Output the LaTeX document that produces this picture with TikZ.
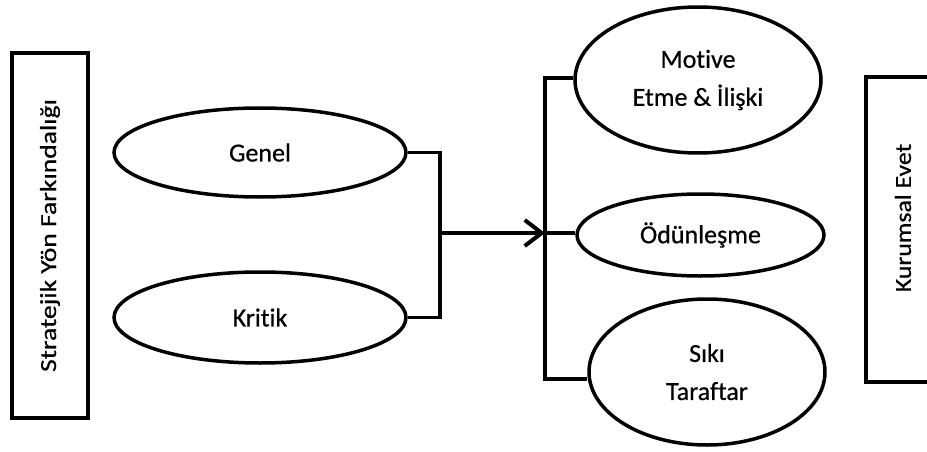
\documentclass[tikz,border=0pt]{standalone}
\usepackage{fontspec}
\setmainfont{Carlito}[Ligatures=NoCommon, FakeBold=0.6, BoldFont=Carlito]
\usetikzlibrary{arrows.meta,shapes.geometric}
\begin{document}
\begin{tikzpicture}[x=1pt,y=-1pt,
  oval/.style={draw, line width=3.5pt, ellipse, inner sep=0pt, align=center,
    font=\fontsize{26}{38}\selectfont\bfseries},
  sidebox/.style={draw, line width=3.8pt, rectangle, inner sep=0pt},
  vtext/.style={rotate=90, font=\fontsize{23}{28}\selectfont\bfseries},
  conn/.style={line width=3.5pt},
  arr/.style={line width=4pt, -{Straight Barb[length=17pt,width=26pt]}},
]
\useasboundingbox (0,0) rectangle (927,452);
\fill[white] (0,0) rectangle (927,452);
\begin{scope}
\clip (0,0) rectangle (927,452);
% side boxes
\node[sidebox, rotate=90, minimum width=365, minimum height=76, font=\fontsize{23}{28}\selectfont\bfseries]
  (strat) at (50,235.5) {\scalebox{1.2}[1]{Stratejik Yön Farkındalığı}};
\node[sidebox, minimum width=110, minimum height=305] (kurbox) at (921,229.5) {};
\node[vtext] (kurtext) at (903,218) {\scalebox{1.12}[1]{Kurumsal Evet}};
% left ellipses
\node[oval, minimum width=292, minimum height=89] (genel) at (260,152.5) {Genel};
\node[oval, minimum width=292, minimum height=91] (kritik) at (260,317.5) {Kritik};
% right ellipses
\node[oval, minimum width=246, minimum height=146] (motive) at (698,80) {\raisebox{-5pt}{Motive}\\\raisebox{-5pt}{Etme \& İlişki}};
\node[oval, minimum width=247, minimum height=82] (odun) at (700.5,235) {Ödünleşme};
\node[oval, minimum width=236, minimum height=146] (siki) at (707,372) {Sıkı\\Taraftar};
% left bracket
\coordinate (jl) at (440,233);
\coordinate (jr) at (545,233);
\draw[conn, line join=miter] (genel.east) -| (jl) |- (kritik.east);
\draw[arr] (jl) -- (jr);
% right bracket
\coordinate (bt) at (545,78);
\coordinate (bb) at (545,379);
\draw[conn, line join=miter] (motive.west |- bt) -- (bt) -- (bb) -- (siki.west |- bb);
\draw[conn] (jr) -- (odun.west |- jr);
\end{scope}
\end{tikzpicture}
\end{document}
